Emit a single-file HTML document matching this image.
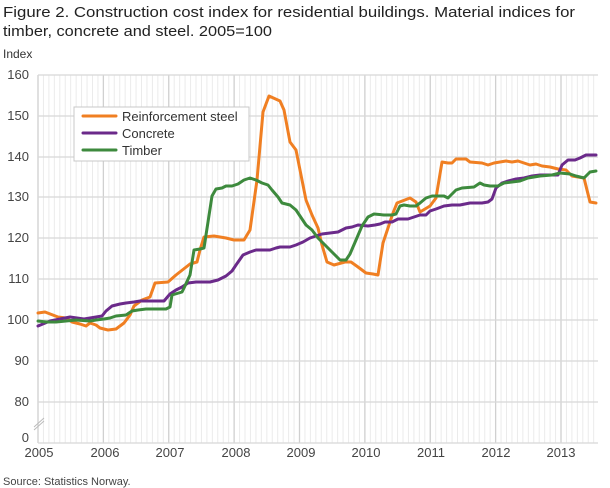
<!DOCTYPE html>
<html><head><meta charset="utf-8"><style>
body{margin:0;background:#fff;}
svg{display:block;font-family:"Liberation Sans",sans-serif;}
</style></head><body>
<svg width="610" height="488" viewBox="0 0 610 488" xmlns="http://www.w3.org/2000/svg">
<text x="3" y="17" font-size="15" fill="#222" textLength="572" lengthAdjust="spacingAndGlyphs">Figure 2. Construction cost index for residential buildings. Material indices for</text>
<text x="3" y="36" font-size="15" fill="#222" textLength="269" lengthAdjust="spacingAndGlyphs">timber, concrete and steel. 2005=100</text>
<text x="3" y="58" font-size="12" fill="#333">Index</text>
<g id="vgrid" stroke="#ebebeb" stroke-width="1"></g>
<g stroke="#d8d8d8" stroke-width="1.2">
<line x1="38" y1="75" x2="598" y2="75"/><line x1="38" y1="116" x2="598" y2="116"/>
<line x1="38" y1="157" x2="598" y2="157"/><line x1="38" y1="197" x2="598" y2="197"/>
<line x1="38" y1="238" x2="598" y2="238"/><line x1="38" y1="279" x2="598" y2="279"/>
<line x1="38" y1="320" x2="598" y2="320"/><line x1="38" y1="361" x2="598" y2="361"/>
<line x1="38" y1="402" x2="598" y2="402"/><line x1="38" y1="443" x2="598" y2="443"/>
</g>
<g font-size="13" fill="#444" text-anchor="end">
<text x="29" y="79">160</text><text x="29" y="120">150</text><text x="29" y="161">140</text>
<text x="29" y="201">130</text><text x="29" y="242">120</text><text x="29" y="283">110</text>
<text x="29" y="324">100</text><text x="29" y="365">90</text><text x="29" y="406">80</text>
<text x="29" y="442">0</text>
</g>
<g stroke="#bbb" stroke-width="1"><line x1="34" y1="427" x2="44" y2="418"/><line x1="34" y1="430" x2="44" y2="421"/></g>
<g font-size="13" fill="#444" text-anchor="middle">
<text x="39" y="457">2005</text><text x="105" y="457">2006</text><text x="170" y="457">2007</text>
<text x="236" y="457">2008</text><text x="301" y="457">2009</text><text x="366" y="457">2010</text>
<text x="431" y="457">2011</text><text x="496" y="457">2012</text><text x="561" y="457">2013</text>
</g>
<g fill="none" stroke-width="3" stroke-linejoin="round" stroke-linecap="round">
<polyline stroke="#f07f22" points="38,313 45,312 58,317 66,318 72,322 80,324 86,326 90,323 96,325 100,328 108,330 116,329 124,323 130,315 134,306 142,300 150,297 155,283 168,282 176,275 190,264 197,262 200,250 204,237 214,236 226,238 234,240 244,240 250,230 257,180 263,112 269,96 280,101 284,110 290,142 296,150 306,200 312,215 318,228 322,245 327,262 334,265 345,262 351,262 358,267 366,273 373,274 378,275 383,243 393,213 397,203 410,198 416,202 420,212 430,206 436,198 442,162 448,163 452,163 456,159 466,159 470,162 482,163 488,165 494,163 506,161 512,162 518,161 524,163 530,165 536,164 542,166 550,167 558,169 566,170 572,176 584,178 590,202 596,203"/>
<polyline stroke="#6b2a8a" points="38,326 50,321 70,317 84,319 96,317 102,316 106,311 112,306 120,304 126,303 134,302 140,301 150,301 164,301 170,294 176,290 182,287 188,283 196,282 210,282 218,280 226,276 232,271 236,265 243,255 250,252 256,250 270,250 276,248 280,247 290,247 296,245 303,242 310,238 316,236 322,234 330,233 338,232 346,228 352,227 358,225 368,226 375,225 380,224 385,222 392,222 398,219 408,219 420,215 426,215 430,211 436,209 444,206 452,205 460,205 470,203 482,203 488,202 492,199 496,188 502,183 508,181 516,179 524,178 532,176 540,175 552,175 558,175 562,165 568,160 575,160 580,158 586,155 596,155"/>
<polyline stroke="#3d8a3d" points="38,321 46,322 56,322 66,321 76,320 90,321 96,320 104,319 110,318 116,316 126,315 132,311 138,310 146,309 166,309 170,307 172,295 182,292 184,288 190,275 194,250 200,249 204,248 208,222 212,196 216,189 222,188 226,186 232,186 238,184 244,180 250,178 256,180 262,183 268,185 272,190 278,197 282,203 290,205 296,210 300,216 306,225 312,230 318,238 324,244 330,250 334,254 340,260 346,260 350,254 356,240 362,226 368,217 374,214 384,215 392,215 396,214 400,206 404,205 410,206 416,206 420,203 426,198 432,196 444,196 448,198 456,190 462,188 474,187 480,183 484,185 490,186 498,186 504,183 512,182 520,181 528,178 534,177 540,176 552,175 560,173 570,174 576,176 584,178 590,172 596,171"/>
</g>
<rect x="74" y="107" width="175" height="54" fill="#fff" stroke="#c8c8c8" stroke-width="1"/>
<g stroke-width="3" stroke-linecap="round">
<line x1="83" y1="116" x2="116" y2="116" stroke="#f07f22"/>
<line x1="83" y1="133" x2="116" y2="133" stroke="#6b2a8a"/>
<line x1="83" y1="150" x2="116" y2="150" stroke="#3d8a3d"/>
</g>
<g font-size="13" fill="#333">
<text x="122" y="121">Reinforcement steel</text>
<text x="122" y="138">Concrete</text>
<text x="122" y="155">Timber</text>
</g>
<text x="3" y="485" font-size="11" fill="#444">Source: Statistics Norway.</text>
<script>
(function(){var g=document.getElementById('vgrid'),ns='http://www.w3.org/2000/svg';
for(var i=0;i<=103;i++){var x=38+i*65.375/12;if(x>598)break;var l=document.createElementNS(ns,'line');
l.setAttribute('x1',x);l.setAttribute('x2',x);l.setAttribute('y1',75);l.setAttribute('y2',443);
if(i%12==0){l.setAttribute('stroke','#d0d0d0');l.setAttribute('stroke-width','1.3');}
g.appendChild(l);}})();
</script>
</svg>
</body></html>
